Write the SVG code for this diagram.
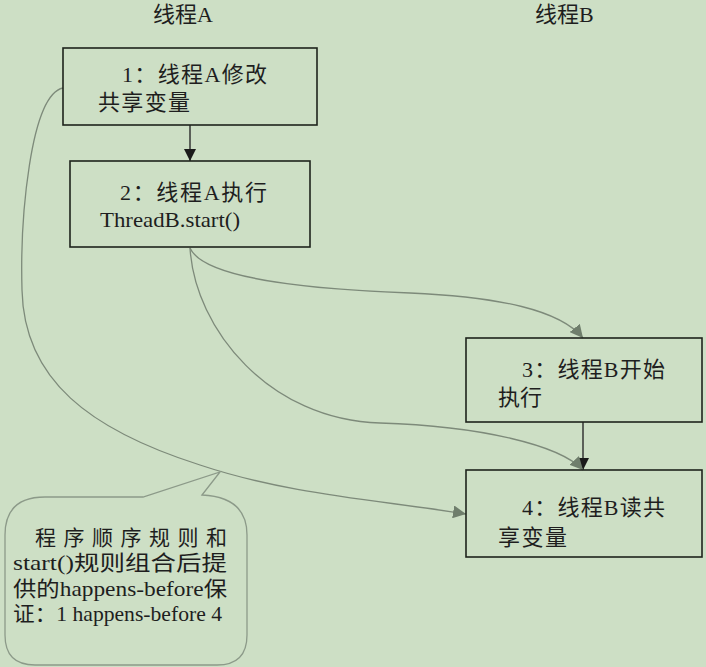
<svg xmlns="http://www.w3.org/2000/svg" width="706" height="667" viewBox="0 0 706 667">
<defs>
<style>
.bg{fill:#cddfc5}
.box{fill:none;stroke:#1e231c;stroke-width:1.6}
.t{font-family:"Liberation Serif","Noto Sans CJK SC",serif;font-size:22px;fill:#1e1e1e}
.tb{font-family:"Liberation Serif","Noto Sans CJK SC",serif;font-size:21px;fill:#1e1e1e}
.c{fill:none;stroke:#7d8a7a;stroke-width:1.3}
.s{fill:none;stroke:#2a2a2a;stroke-width:1.4}
.bub{fill:none;stroke:#8c9a89;stroke-width:1.3}
</style>
<marker id="ag" viewBox="0 0 10 10" refX="10" refY="5" markerUnits="userSpaceOnUse" markerWidth="13" markerHeight="13" orient="auto"><path d="M0,0 L10,5 L0,10 Z" fill="#6f7e6c"/></marker>
<marker id="ab" viewBox="0 0 10 10" refX="10" refY="5" markerUnits="userSpaceOnUse" markerWidth="12" markerHeight="12" orient="auto"><path d="M0,0 L10,5 L0,10 Z" fill="#1a1a1a"/></marker>
</defs>
<rect class="bg" x="0" y="0" width="706" height="667"/>
<g id="titles">
<text class="t" x="153" y="22">线程A</text>
<text class="t" x="535" y="22">线程B</text>
</g>
<g id="connectors">
<path class="s" d="M190,125 L190,161" marker-end="url(#ab)"/>
<path class="s" d="M583,422 L583,470" marker-end="url(#ab)"/>
<path class="c" d="M190,248 C205,282 330,290 410,293 C500,297 560,310 583,338" marker-end="url(#ag)"/>
<path class="c" d="M190,248 C195,330 270,420 380,423 C480,426 560,445 583,470" marker-end="url(#ag)"/>
<path class="c" d="M63,88 C30,95 20,220 22,290 C24,380 90,430 200,465 C290,495 380,500 466,514" marker-end="url(#ag)"/>
</g>
<g id="node1">
<rect class="box" x="63" y="48" width="254" height="77"/>
<text class="t" x="122" y="82" textLength="145" lengthAdjust="spacing">1：线程A修改</text>
<text class="t" x="98" y="110" textLength="92" lengthAdjust="spacing">共享变量</text>
</g>
<g id="node2">
<rect class="box" x="70" y="161" width="240" height="86"/>
<text class="t" x="120" y="200" textLength="147" lengthAdjust="spacing">2：线程A执行</text>
<text class="t" x="100" y="227" textLength="140" lengthAdjust="spacingAndGlyphs">ThreadB.start()</text>
</g>
<g id="node3">
<rect class="box" x="466" y="338" width="236" height="84"/>
<text class="t" x="522" y="377" textLength="143" lengthAdjust="spacing">3：线程B开始</text>
<text class="t" x="498" y="405">执行</text>
</g>
<g id="node4">
<rect class="box" x="466" y="470" width="236" height="87"/>
<text class="t" x="522" y="515" textLength="143" lengthAdjust="spacing">4：线程B读共</text>
<text class="t" x="498" y="545" textLength="69" lengthAdjust="spacing">享变量</text>
</g>
<g id="note">
<path class="bub" d="M45,497 L143,497 L220,472 L202,495 Q247,497 247,535 L247,635 Q247,665 217,665 L35,665 Q5,665 5,635 L5,535 Q5,497 45,497 Z"/>
<text class="tb" x="35" y="545" textLength="192" lengthAdjust="spacing">程序顺序规则和</text>
<text class="tb" x="13" y="570" textLength="214" lengthAdjust="spacingAndGlyphs">start()规则组合后提</text>
<text class="tb" x="13" y="596" textLength="214" lengthAdjust="spacingAndGlyphs">供的happens-before保</text>
<text class="tb" x="13" y="621" textLength="209" lengthAdjust="spacingAndGlyphs">证：1 happens-before 4</text>
</g>
</svg>
